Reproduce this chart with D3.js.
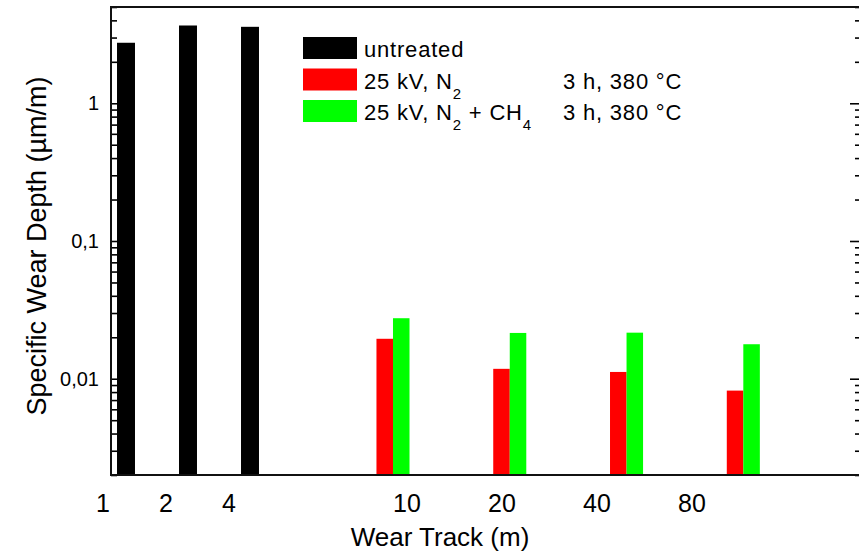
<!DOCTYPE html>
<html>
<head>
<meta charset="utf-8">
<script src="https://cdn.jsdelivr.net/npm/d3@7"></script>
<style>
  body { margin: 0; background: #fff; }
  svg { display: block; font-family: "Liberation Sans", Arial, sans-serif; }
</style>
</head>
<body>
<div id="chart"></div>
<script>
// Data
const untreatedTracks = ["1", "2", "4"];
const treatedTracks = ["10", "20", "40", "80"];
const untreatedDepth = [2.75, 3.67, 3.59];
const n2Depth = [0.0195, 0.0118, 0.0112, 0.0082];
const n2ch4Depth = [0.0275, 0.0215, 0.0216, 0.0178];
const seriesNames = ["untreated", "25 kV, N_2", "25 kV, N_2 + CH_4"];
const seriesConditions = ["", "3 h, 380 °C", "3 h, 380 °C"];
const seriesColors = ["#000000", "#ff0000", "#00ff00"];
const majorTicks = [0.01, 0.1, 1];

// Layout
const W = 859, H = 552;
const PLOT = { left: 111, right: 861, top: 7, bottom: 475 };

const svg = d3.select("#chart")
    .append("svg")
    .attr("width", W)
    .attr("height", H);

// Scales
const y = d3.scaleLog()
    .domain([0.002, 5])
    .range([PLOT.bottom, PLOT.top]);

const xUntreated = d3.scaleBand()
    .domain(untreatedTracks)
    .range([95, 281])
    .paddingInner(0.71)
    .paddingOuter(0.355);

const xTreated = d3.scaleBand()
    .domain(treatedTracks)
    .range([334.6, 801.7])
    .paddingInner(0.717)
    .paddingOuter(0.3585);

const xSub = d3.scaleBand()
    .domain(["n2", "n2ch4"])
    .range([0, xTreated.bandwidth()]);

// tick labels are not centred under the bars in the original
const labelUntreated = d3.scalePoint().domain(untreatedTracks).range([103, 229]);
const labelTreated = d3.scalePoint().domain(treatedTracks).range([407, 692]);

// Minor ticks 2..9 per decade
const minorTicks = [];
[0.001, 0.01, 0.1, 1].forEach(dec => {
    for (let m = 2; m <= 9; m++) {
        const v = +(m * dec).toPrecision(3);
        if (v >= 0.002 && v <= 5) minorTicks.push(v);
    }
});

// Bars
svg.append("g")
    .selectAll("rect")
    .data(untreatedDepth)
    .join("rect")
    .attr("x", (d, i) => xUntreated(untreatedTracks[i]))
    .attr("width", xUntreated.bandwidth())
    .attr("y", d => y(d))
    .attr("height", d => PLOT.bottom - y(d))
    .attr("fill", seriesColors[0]);

const treated = treatedTracks.map((t, i) => ({ track: t, n2: n2Depth[i], n2ch4: n2ch4Depth[i] }));

svg.append("g")
    .selectAll("g")
    .data(treated)
    .join("g")
    .attr("transform", d => `translate(${xTreated(d.track)},0)`)
    .selectAll("rect")
    .data(d => [{ key: "n2", v: d.n2, c: seriesColors[1] }, { key: "n2ch4", v: d.n2ch4, c: seriesColors[2] }])
    .join("rect")
    .attr("x", d => xSub(d.key))
    .attr("width", xSub.bandwidth())
    .attr("y", d => y(d.v))
    .attr("height", d => PLOT.bottom - y(d.v))
    .attr("fill", d => d.c);

// Y axis left
svg.append("g")
    .attr("transform", `translate(${PLOT.left},0)`)
    .call(d3.axisLeft(y).tickValues(minorTicks).tickSize(-6).tickFormat(""));

const yLeftMajor = svg.append("g")
    .attr("transform", `translate(${PLOT.left},0)`)
    .call(d3.axisLeft(y).tickValues(majorTicks).tickSize(-7).tickPadding(12)
        .tickFormat(d => String(d).replace(".", ",")));

yLeftMajor.selectAll("text")
    .attr("font-size", 20)
    .attr("fill", "#000")
    .attr("font-family", "Liberation Sans, Arial, sans-serif");

// Y axis right (ticks only)
svg.append("g")
    .attr("transform", `translate(${PLOT.right},0)`)
    .call(d3.axisRight(y).tickValues(minorTicks).tickSize(-6).tickFormat(""));
svg.append("g")
    .attr("transform", `translate(${PLOT.right},0)`)
    .call(d3.axisRight(y).tickValues(majorTicks).tickSize(-11).tickFormat(""));

svg.selectAll(".domain").remove();
svg.selectAll(".tick line").attr("stroke", "#000").attr("stroke-width", 1.6);

// Frame
svg.append("rect")
    .attr("x", PLOT.left)
    .attr("y", PLOT.top)
    .attr("width", PLOT.right - PLOT.left)
    .attr("height", PLOT.bottom - PLOT.top)
    .attr("fill", "none")
    .attr("stroke", "#111")
    .attr("stroke-width", 2);

// X tick labels
svg.append("g")
    .selectAll("text.u")
    .data(untreatedTracks)
    .join("text")
    .attr("class", "u")
    .attr("x", d => labelUntreated(d))
    .attr("y", 512)
    .attr("font-size", 25)
    .attr("text-anchor", "middle")
    .text(d => d);

svg.append("g")
    .selectAll("text.t")
    .data(treatedTracks)
    .join("text")
    .attr("class", "t")
    .attr("x", d => labelTreated(d))
    .attr("y", 512)
    .attr("font-size", 25)
    .attr("text-anchor", "middle")
    .text(d => d);

// Axis titles
svg.append("text")
    .attr("x", 440)
    .attr("y", 546)
    .attr("text-anchor", "middle")
    .attr("font-size", 26)
    .text("Wear Track (m)");

svg.append("text")
    .attr("transform", "translate(46,246) rotate(-90)")
    .attr("text-anchor", "middle")
    .attr("font-size", 27)
    .text("Specific Wear Depth (µm/m)");

// Legend: "_x" marks a subscript
function addRich(textSel, label) {
    let shift = 0;
    label.split(/(_\d)/).filter(s => s).forEach(part => {
        if (part.startsWith("_")) {
            textSel.append("tspan")
                .attr("font-size", 15)
                .attr("dy", 10)
                .text(part.slice(1));
            shift = -10;
        } else {
            textSel.append("tspan").attr("dy", shift).text(part);
            shift = 0;
        }
    });
}

const legend = svg.append("g").attr("transform", "translate(303,37)");
const rows = legend.selectAll("g")
    .data(seriesNames)
    .join("g")
    .attr("transform", (d, i) => `translate(0,${i * 31.5})`);

rows.append("rect")
    .attr("width", 54)
    .attr("height", 22)
    .attr("fill", (d, i) => seriesColors[i]);

rows.append("text")
    .attr("x", 61)
    .attr("y", 20)
    .attr("font-size", 22)
    .attr("letter-spacing", 0.8)
    .each(function (d) { addRich(d3.select(this), d); });

rows.filter((d, i) => seriesConditions[i] !== "")
    .append("text")
    .attr("x", 260)
    .attr("y", 20)
    .attr("font-size", 22)
    .attr("letter-spacing", 0.8)
    .text((d, i) => seriesConditions[i + 1]);
</script>
</body>
</html>
